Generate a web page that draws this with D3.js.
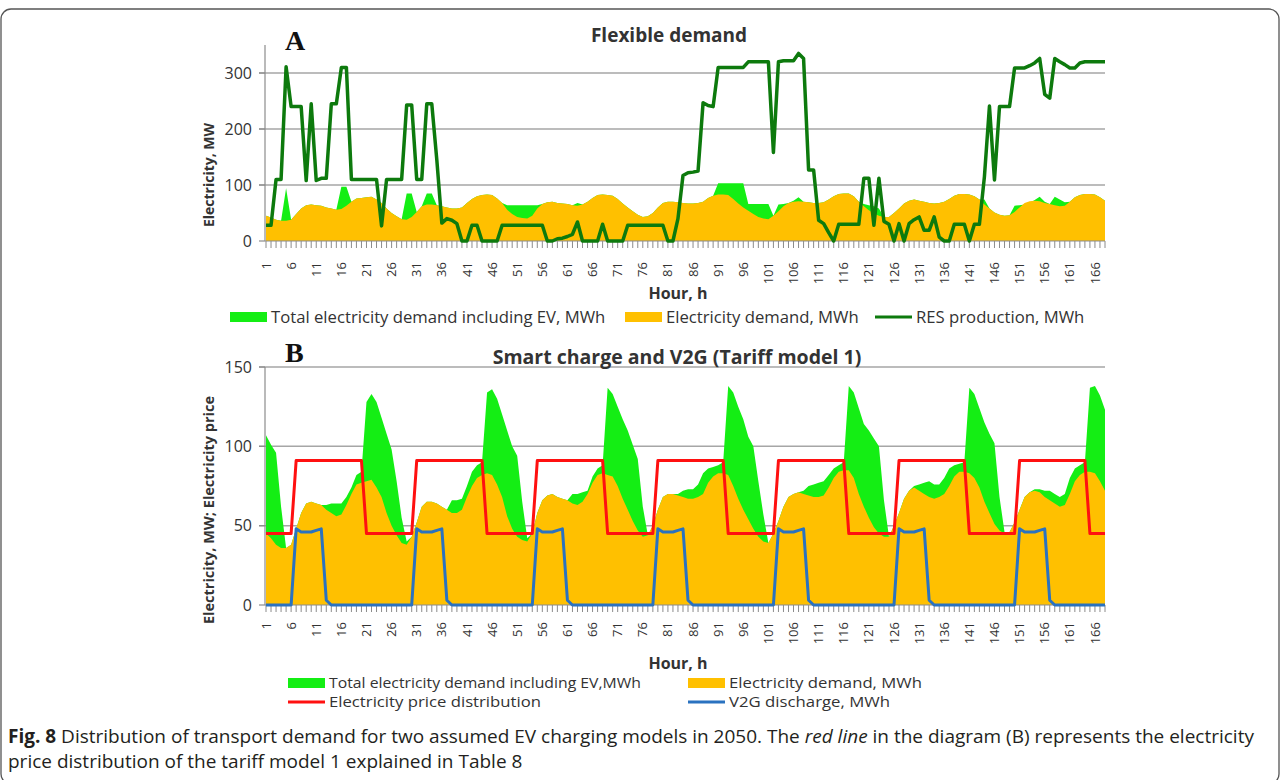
<!DOCTYPE html>
<html><head><meta charset="utf-8">
<script src="https://cdn.jsdelivr.net/npm/d3@7/dist/d3.min.js"></script>
<style>
body{margin:0;background:#fff;}
svg{display:block;font-family:'Open Sans',sans-serif;}
</style>
</head><body>
<svg id="c" width="1281" height="780"></svg>
<script>
// ---------- DATA ----------
const hours = d3.range(1, 169);
const hourTickLabels = ["1","6","11","16","21","26","31","36","41","46","51","56","61","66","71","76","81","86","91","96","101","106","111","116","121","126","131","136","141","146","151","156","161","166"];
const yTicksA = [0, 100, 200, 300];
const yTicksB = [0, 50, 100, 150];

// Electricity demand, MWh (orange, same in A and B)
const demand = [
  45,42,38,36,36,38,48,58,64,65,64,63,60,58,56,57,63,70,76,77,78,79,74,68,
  58,50,44,39,38,43,52,62,65,65,64,62,60,58,58,60,68,75,80,82,83,82,76,68,
  56,48,43,41,40,45,58,66,69,70,68,67,66,64,63,65,70,77,82,83,82,81,75,67,
  60,53,47,43,44,50,60,68,70,70,69,68,67,67,68,70,77,81,83,83,82,75,67,60,
  54,48,43,40,39,45,53,62,68,70,71,70,69,68,68,69,74,80,84,85,85,80,70,62,
  55,49,45,43,43,50,58,67,72,74,72,70,68,67,68,70,75,81,84,84,83,80,74,65,
  58,51,47,45,46,52,60,68,71,72,71,68,66,64,62,63,70,78,82,84,84,83,78,72
];
// A: Total electricity demand including EV, MWh
const totalA = [
  45,42,38,36,94,38,48,58,64,65,64,63,60,58,56,97,97,70,76,77,78,79,74,68,
  58,50,44,39,85,85,52,62,85,85,64,62,60,58,58,60,68,75,80,82,83,82,76,68,
  64,64,64,64,64,64,64,66,69,70,68,67,66,64,68,65,70,77,82,83,82,81,75,67,
  60,53,47,43,44,50,60,68,70,70,69,68,67,67,68,70,77,81,103,103,103,103,103,103,
  66,66,66,66,66,45,65,66,68,72,78,70,69,68,68,69,74,80,84,85,85,80,70,66,
  64,62,58,43,43,50,58,67,72,74,72,70,68,67,68,70,75,81,84,84,83,80,74,74,
  58,51,47,45,46,63,64,65,68,73,79,70,66,79,74,69,70,78,82,84,84,83,78,72
];
// A: RES production, MWh
const resA = [
  28,28,110,110,311,240,240,240,108,245,108,112,112,245,245,310,310,110,110,110,110,110,110,27,
  110,110,110,110,243,243,110,110,245,245,145,32,40,37,31,0,0,28,28,0,0,0,0,28,
  28,28,28,28,28,28,28,28,0,0,4,5,8,12,34,0,0,0,0,30,0,0,0,0,
  28,28,28,28,28,28,28,28,0,0,40,117,122,123,125,247,242,240,310,310,310,310,310,310,
  320,320,320,320,320,158,320,322,322,322,335,326,127,127,37,31,15,0,30,30,30,30,30,112,
  112,28,112,35,30,0,31,0,31,38,43,19,19,43,7,0,0,30,30,30,0,30,30,115,
  241,109,240,240,240,309,309,309,313,318,326,262,255,326,320,315,309,309,318,320,320,320,320,320
];
// B: Total electricity demand including EV, MWh
const totalB = [
  107,101,96,62,36,38,48,58,64,65,64,63,63,64,64,64,68,74,82,84,128,133,128,118,
  108,98,78,55,40,43,52,62,65,65,64,62,60,66,66,67,75,84,88,90,134,136,130,120,
  110,100,94,65,42,45,58,66,69,70,68,67,66,70,70,71,72,81,86,88,137,133,125,117,
  110,101,92,62,44,50,60,68,70,70,70,72,73,73,76,83,86,87,88,90,138,134,125,117,
  106,100,78,57,39,45,53,62,68,70,71,72,75,76,77,78,82,86,88,90,138,134,124,114,
  110,105,100,66,43,50,58,67,72,75,76,77,78,76,76,80,86,88,89,90,137,133,124,115,
  108,102,68,46,46,52,60,68,71,73,73,72,72,70,68,70,80,86,88,90,137,138,132,123
];
// B: Electricity price distribution
const priceB = [
  45,45,45,45,45,45,91,91,91,91,91,91,91,91,91,91,91,91,91,91,45,45,45,45,
  45,45,45,45,45,45,91,91,91,91,91,91,91,91,91,91,91,91,91,91,45,45,45,45,
  45,45,45,45,45,45,91,91,91,91,91,91,91,91,91,91,91,91,91,91,45,45,45,45,
  45,45,45,45,45,45,91,91,91,91,91,91,91,91,91,91,91,91,91,91,45,45,45,45,
  45,45,45,45,45,45,91,91,91,91,91,91,91,91,91,91,91,91,91,91,45,45,45,45,
  45,45,45,45,45,45,91,91,91,91,91,91,91,91,91,91,91,91,91,91,45,45,45,45,
  45,45,45,45,45,45,91,91,91,91,91,91,91,91,91,91,91,91,91,91,45,45,45,45
];
// B: V2G discharge, MWh
const v2gB = [
  0,0,0,0,0,0,48,46,46,46,47,48,3,0,0,0,0,0,0,0,0,0,0,0,
  0,0,0,0,0,0,48,46,46,46,47,48,3,0,0,0,0,0,0,0,0,0,0,0,
  0,0,0,0,0,0,48,46,46,46,47,48,3,0,0,0,0,0,0,0,0,0,0,0,
  0,0,0,0,0,0,48,46,46,46,47,48,3,0,0,0,0,0,0,0,0,0,0,0,
  0,0,0,0,0,0,48,46,46,46,47,48,3,0,0,0,0,0,0,0,0,0,0,0,
  0,0,0,0,0,0,48,46,46,46,47,48,3,0,0,0,0,0,0,0,0,0,0,0,
  0,0,0,0,0,0,48,46,46,46,47,48,3,0,0,0,0,0,0,0,0,0,0,0
];
const legendA = ['Total electricity demand including EV, MWh','Electricity demand, MWh','RES production, MWh'];
const legendB = ['Total electricity demand including EV,MWh','Electricity demand, MWh','Electricity price distribution','V2G discharge, MWh'];

// ---------- COLOURS ----------
const C = {green:'#14ee14', orange:'#ffc000', res:'#0d7a0d', red:'#ff1010', blue:'#2a72c0',
           grid:'#a6a6a6', axis:'#8c8c8c', text:'#333333'};

const svg = d3.select('#c');
svg.append('rect').attr('x',1).attr('y',9).attr('width',1278).attr('height',775)
   .attr('rx',10).attr('fill','none').attr('stroke','#555').attr('stroke-width',1.3);

const x = d3.scaleLinear().domain([1,168]).range([266,1105]);

function drawPanel(o){
  const g = svg.append('g');
  const y = d3.scaleLinear().domain([0,o.max]).range([o.y0,o.yTop]);
  g.selectAll('.gl').data(o.yTicks.filter(d=>d>0)).join('line')
    .attr('x1',259).attr('x2',1105).attr('y1',d=>y(d)).attr('y2',d=>y(d))
    .attr('stroke',C.grid).attr('stroke-width',1.5);
  g.selectAll('.yl').data(o.yTicks).join('text')
    .attr('x',252).attr('y',d=>y(d)).attr('dy','0.36em').attr('text-anchor','end')
    .attr('font-size',16).attr('fill',C.text).text(d=>d);
  const area = d3.area().x((d,i)=>x(hours[i])).y0(y(0)).y1(d=>y(d));
  g.append('path').datum(o.total).attr('d',area).attr('fill',C.green);
  g.append('path').datum(demand).attr('d',area).attr('fill',C.orange);
  g.append('line').attr('x1',265).attr('x2',265).attr('y1',o.y0).attr('y2',o.axisTop)
    .attr('stroke',C.axis).attr('stroke-width',1.2);
  g.selectAll('.yt').data(o.yTicks).join('line')
    .attr('x1',259).attr('x2',265).attr('y1',d=>y(d)).attr('y2',d=>y(d))
    .attr('stroke',C.axis).attr('stroke-width',1.2);
  g.append('line').attr('x1',265).attr('x2',1105).attr('y1',o.y0).attr('y2',o.y0)
    .attr('stroke',C.axis).attr('stroke-width',1.2);
  g.selectAll('.xt').data(hours).join('line')
    .attr('x1',d=>x(d)).attr('x2',d=>x(d)).attr('y1',o.y0).attr('y2',o.y0+7)
    .attr('stroke',C.axis).attr('stroke-width',1);
  const line = d3.line().x((d,i)=>x(hours[i])).y(d=>y(d));
  o.lines.forEach(l=>{
    g.append('path').datum(l.data).attr('d',line).attr('fill','none')
      .attr('stroke',l.color).attr('stroke-width',l.w).attr('stroke-linejoin','round');
  });
  g.selectAll('.xl').data(hourTickLabels).join('text')
    .attr('transform',d=>`translate(${x(+d)},${o.labelTop}) rotate(-90)`)
    .attr('text-anchor','end').attr('dy','0.35em')
    .attr('font-size',13).attr('fill',C.text).text(d=>d);
  g.append('text').attr('x',678).attr('y',o.hourY).attr('text-anchor','middle')
    .attr('font-size',16).attr('font-weight','bold').attr('fill',C.text).text('Hour, h');
  g.append('text').attr('transform',`translate(209,${o.yLabelC}) rotate(-90)`)
    .attr('text-anchor','middle').attr('dy','0.35em')
    .attr('font-size',o.yLabelFs).attr('font-weight','bold').attr('fill',C.text).text(o.yLabel);
  g.append('text').attr('x',o.titleX).attr('y',o.titleY).attr('text-anchor','middle')
    .attr('font-size',o.titleFs).attr('font-weight','bold').attr('fill',C.text).text(o.title);
  g.append('text').attr('x',285).attr('y',o.letterY)
    .attr('font-family','Liberation Serif, serif').attr('font-size',28).attr('font-weight','bold')
    .attr('fill','#111').text(o.letter);
}

drawPanel({max:350, y0:241, yTop:45, axisTop:45, yTicks:yTicksA, total:totalA,
  lines:[{data:resA, color:C.res, w:3.5}], labelTop:262, hourY:299,
  yLabel:'Electricity, MW', yLabelC:175, yLabelFs:14, title:'Flexible demand', titleFs:19,
  titleX:669, titleY:42, letter:'A', letterY:50});

drawPanel({max:150, y0:605, yTop:367, axisTop:367, yTicks:yTicksB, total:totalB,
  lines:[{data:priceB, color:C.red, w:3}, {data:v2gB, color:C.blue, w:3}], labelTop:622, hourY:669,
  yLabel:'Electricity, MW; Electricity price', yLabelC:510, yLabelFs:14.5,
  title:'Smart charge and V2G (Tariff model 1)', titleFs:19.5,
  titleX:677, titleY:364, letter:'B', letterY:362});

// ---------- LEGENDS ----------
function legendItem(xp, yc, type, color, label, fs, len){
  if(type==='rect') svg.append('rect').attr('x',xp).attr('y',yc-5).attr('width',37).attr('height',10).attr('fill',color);
  else svg.append('line').attr('x1',xp).attr('x2',xp+37).attr('y1',yc).attr('y2',yc).attr('stroke',color).attr('stroke-width',3);
  const t = svg.append('text').attr('x',xp+41).attr('y',yc).attr('dy','0.35em').attr('font-size',fs)
    .attr('fill',C.text).text(label);
  if(len) t.attr('textLength',len).attr('lengthAdjust','spacingAndGlyphs');
}
legendItem(230,317,'rect',C.green,legendA[0],16.7);
legendItem(625,317,'rect',C.orange,legendA[1],16.7);
legendItem(875,317,'line',C.res,legendA[2],16.7);

legendItem(288,683,'rect',C.green,legendB[0],14,312);
legendItem(688,683,'rect',C.orange,legendB[1],14,193);
legendItem(288,702,'line',C.red,legendB[2],14,212);
legendItem(688,702,'line',C.blue,legendB[3],14,161);

// ---------- CAPTION ----------
const cap = svg.append('text').attr('x',8).attr('y',743).attr('font-size',19).attr('fill','#231f20');
cap.append('tspan').attr('font-weight','bold').text('Fig. 8');
cap.append('tspan').text(' Distribution of transport demand for two assumed EV charging models in 2050. The ');
cap.append('tspan').attr('font-style','italic').text('red line');
cap.append('tspan').text(' in the diagram (B) represents the electricity');
svg.append('text').attr('x',8).attr('y',768).attr('font-size',19).attr('fill','#231f20')
  .text('price distribution of the tariff model 1 explained in Table 8');
</script>
</body></html>
